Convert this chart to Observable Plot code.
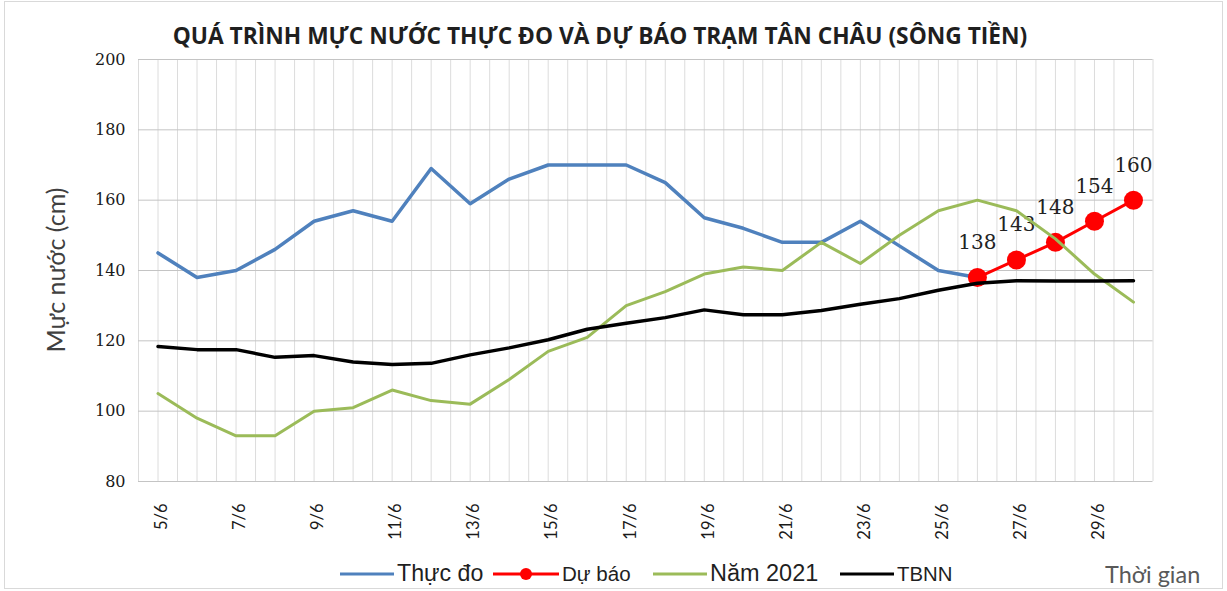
<!DOCTYPE html>
<html><head><meta charset="utf-8">
<script src="https://cdn.jsdelivr.net/npm/d3@7"></script>
<script src="https://cdn.jsdelivr.net/npm/@observablehq/plot@0.6"></script>
<style>
body{margin:0;background:#fff;}
#wrap{position:relative;width:1227px;height:591px;overflow:hidden;background:#fff;}
#frame{position:absolute;left:4px;top:1px;width:1219px;height:588px;border:1px solid #d9d9d9;box-sizing:border-box;}
#chart{position:absolute;left:0;top:0;}
#title{position:absolute;left:600px;top:36px;transform:translate(-50%,-50%);font-family:"Open Sans";font-weight:bold;font-size:20px;color:#1f1f1f;white-space:nowrap;line-height:1;}
#ylab{position:absolute;left:55px;top:270px;transform:translate(-50%,-50%) rotate(-90deg);font-family:Lato;font-size:20px;color:#404040;white-space:nowrap;line-height:1;}
#xlab{position:absolute;left:1105px;top:575px;transform:translateY(-50%);font-family:Lato;font-size:19px;color:#595959;white-space:nowrap;line-height:1;}
.leg{position:absolute;top:562px;height:24px;display:flex;align-items:center;white-space:nowrap;color:#1f1f1f;font-family:"Liberation Sans Narrow","Liberation Sans";}
.leg svg{display:block;margin-right:3px;}
.leg span{line-height:1;}
</style>
</head><body>
<div id="wrap">
  <div id="frame"></div>
  <div id="chart"></div>
  <div id="title"></div>
  <div id="ylab"></div>
  <div id="xlab"></div>
  <div id="legend"></div>
</div>
<script>
const titleText = "QUÁ TRÌNH MỰC NƯỚC THỰC ĐO VÀ DỰ BÁO TRẠM TÂN CHÂU (SÔNG TIỀN)";
const yLabel = "Mực nước (cm)";
const xLabel = "Thời gian";
const dates = ["5/6","6/6","7/6","8/6","9/6","10/6","11/6","12/6","13/6","14/6","15/6","16/6","17/6","18/6","19/6","20/6","21/6","22/6","23/6","24/6","25/6","26/6","27/6","28/6","29/6","30/6"];
const yTicks = [80,100,120,140,160,180,200];
// Thực đo: 5/6 .. 26/6
const thucDo = [145,138,140,146,154,157,154,169,159,166,170,170,170,165,155,152,148,148,154,147,140,138];
// Dự báo: 26/6 .. 30/6
const duBaoStart = "26/6";
const duBao = [138,143,148,154,160];
// Năm 2021: 5/6 .. 30/6
const nam2021 = [105,98,93,93,100,101,106,103,102,109,117,121,130,134,139,141,140,148,142,150,157,160,157,149,139,131];
// TBNN: 5/6 .. 30/6
const tbnn = [118.4,117.5,117.5,115.3,115.8,114,113.3,113.6,116,118,120.3,123.3,125,126.6,128.8,127.4,127.4,128.6,130.4,132,134.4,136.4,137.1,137,137,137.1];

const seriesNames = ["Thực đo","Dự báo","Năm 2021","TBNN"];
const seriesColors = ["#4f81bd","#ff0000","#9bbb59","#000000"];

const s0 = dates.indexOf(duBaoStart);

const plot = Plot.plot({
  width: 1227, height: 591,
  marginLeft: 138, marginRight: 74.5, marginTop: 59, marginBottom: 110,
  style: {background: "transparent", overflow: "visible"},
  x: {type: "linear", domain: [-0.5, dates.length - 0.5]},
  y: {domain: [yTicks[0], yTicks[yTicks.length - 1]]},
  marks: [
    Plot.gridX(d3.range(-0.5, dates.length, 0.5), {stroke: "#dcdcdc", strokeOpacity: 1}),
    Plot.gridY(yTicks, {stroke: "#c4c4c4", strokeOpacity: 1}),
    Plot.axisY(yTicks, {tickSize: 0, tickPadding: 13, fontSize: 16, fontFamily: "DejaVu Serif", fill: "#1a1a1a", label: null}),
    Plot.axisX(d3.range(0, dates.length, 2), {tickFormat: i => dates[i], tickRotate: -90, tickSize: 0, tickPadding: 22, dx: 4, fontSize: 16.5, fontFamily: "Lato", fill: "#1a1a1a", label: null}),
    Plot.lineY(thucDo, {x: (d, i) => i, y: d => d, stroke: seriesColors[0], strokeWidth: 3.5}),
    Plot.lineY(duBao, {x: (d, i) => s0 + i, y: d => d, stroke: seriesColors[1], strokeWidth: 3}),
    Plot.dot(duBao, {x: (d, i) => s0 + i, y: d => d, r: 9.5, fill: seriesColors[1], stroke: "none"}),
    Plot.text(duBao, {x: (d, i) => s0 + i, y: d => d, text: d => String(d), dy: -35, fontSize: 20, fontFamily: "DejaVu Serif", fill: "#222"}),
    Plot.lineY(nam2021, {x: (d, i) => i, y: d => d, stroke: seriesColors[2], strokeWidth: 3}),
    Plot.lineY(tbnn, {x: (d, i) => i, y: d => d, stroke: seriesColors[3], strokeWidth: 3.5})
  ]
});
document.getElementById("chart").appendChild(plot);

function fit(el, target) {
  const w = el.offsetWidth;
  const fs = parseFloat(getComputedStyle(el).fontSize);
  if (w > 0) el.style.fontSize = (fs * target / w) + "px";
}

const t = document.getElementById("title"); t.textContent = titleText; fit(t, 855);
const yl = document.getElementById("ylab"); yl.textContent = yLabel; fit(yl, 165);
const xl = document.getElementById("xlab"); xl.textContent = xLabel; fit(xl, 95);

// legend
const legLeft = [340, 493, 653, 840];
const legTextW = [87, 69, 108, 55];
const leg = document.getElementById("legend");
seriesNames.forEach((name, i) => {
  const d = document.createElement("div");
  d.className = "leg";
  d.style.left = legLeft[i] + "px";
  const w = i === 1 ? 66 : 54;
  let svg = `<svg width="${w}" height="24"><line x1="0" x2="${w}" y1="12" y2="12" stroke="${seriesColors[i]}" stroke-width="3"/>`;
  if (i === 1) svg += `<circle cx="${w/2}" cy="12" r="6" fill="${seriesColors[i]}"/>`;
  svg += `</svg>`;
  d.innerHTML = svg + `<span style="font-size:20px">${name}</span>`;
  leg.appendChild(d);
  fit(d.querySelector("span"), legTextW[i]);
});
</script>
</body></html>
